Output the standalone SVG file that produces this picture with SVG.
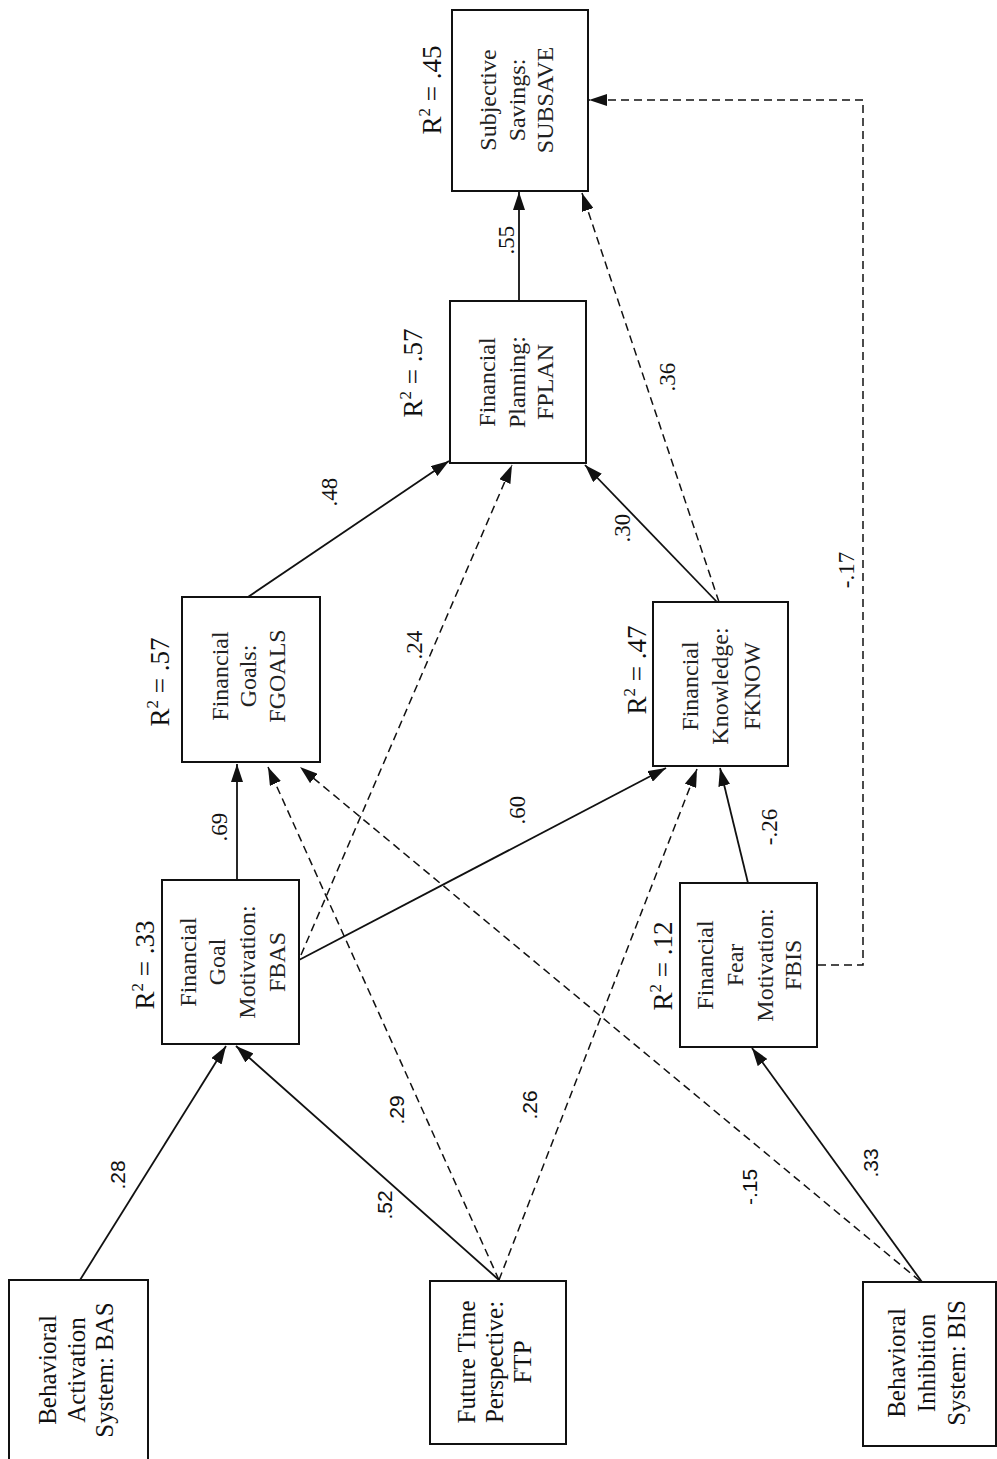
<svg xmlns="http://www.w3.org/2000/svg" width="997" height="1459" viewBox="0 0 997 1459">
<style>
.box{fill:#fff;stroke:#111;stroke-width:2}
.lbl{font-family:"Liberation Serif","Times New Roman",serif;font-size:24px;fill:#222;text-anchor:middle}
.lblb{font-family:"Liberation Serif","Times New Roman",serif;font-size:25px;fill:#111;text-anchor:middle}
.coef{font-family:"Liberation Serif","Times New Roman",serif;font-size:23px;fill:#111;text-anchor:middle}
.coefs{font-family:"Liberation Sans",Arial,sans-serif;font-size:21px;fill:#111;text-anchor:middle}
.r2{font-family:"Liberation Serif","Times New Roman",serif;font-size:27px;fill:#111;text-anchor:middle}
.sol{fill:none;stroke:#111;stroke-width:1.8;marker-end:url(#ah)}
.dash{fill:none;stroke:#111;stroke-width:1.5;stroke-dasharray:8,5;marker-end:url(#ah)}
</style>
<defs>
<marker id="ah" viewBox="0 0 18 12" refX="18" refY="6" markerWidth="18" markerHeight="12" orient="auto" markerUnits="userSpaceOnUse">
<path d="M0,0 L18,6 L0,12 z" fill="#111" stroke="none"/>
</marker>
</defs>
<rect width="997" height="1459" fill="#fff"/>

<g id="connectors">
<path class="sol" d="M80,1280 L226,1046"/>
<path class="sol" d="M499,1280 L236,1046"/>
<path class="dash" d="M499,1280 L268,767"/>
<path class="dash" d="M499,1280 L697,769"/>
<path class="sol" d="M922,1282 L752,1048"/>
<path class="dash" d="M920,1281 L300,767"/>
<path class="sol" d="M748,883 L720,768"/>
<path class="dash" d="M818,965 L863,965 L863,100 L589,100"/>
<path class="sol" d="M237,880 L237,764"/>
<path class="sol" d="M299,960 L666,768"/>
<path class="dash" d="M301,955 L512,465"/>
<path class="sol" d="M248,597 L449,461"/>
<path class="sol" d="M717,602 L585,465"/>
<path class="dash" d="M719,602 L582,193"/>
<path class="sol" d="M519,301 L519,192"/>
</g>

<g id="coefficients">
<text class="coefs" transform="translate(125,1175) rotate(-90)">.28</text>
<text class="coefs" transform="translate(392,1205) rotate(-90)">.52</text>
<text class="coefs" transform="translate(404,1110) rotate(-90)">.29</text>
<text class="coefs" transform="translate(537,1105) rotate(-90)">.26</text>
<text class="coefs" transform="translate(757,1187) rotate(-90)">-.15</text>
<text class="coefs" transform="translate(878,1163) rotate(-90)">.33</text>
<text class="coef" transform="translate(227,827) rotate(-90)">.69</text>
<text class="coef" transform="translate(422,645) rotate(-90)">.24</text>
<text class="coef" transform="translate(525,810) rotate(-90)">.60</text>
<text class="coef" transform="translate(337,492) rotate(-90)">.48</text>
<text class="coef" transform="translate(630,528) rotate(-90)">.30</text>
<text class="coef" transform="translate(675,377) rotate(-90)">.36</text>
<text class="coef" transform="translate(514,240) rotate(-90)">.55</text>
<text class="coef" transform="translate(777,827) rotate(-90)">-.26</text>
<text class="coef" transform="translate(854,570) rotate(-90)">-.17</text>
</g>

<g id="node-bas">
<rect class="box" x="9" y="1280" width="139" height="185"/>
<text class="lblb" transform="translate(56,1370) rotate(-90)">Behavioral</text>
<text class="lblb" transform="translate(85,1370) rotate(-90)">Activation</text>
<text class="lblb" transform="translate(113,1370) rotate(-90)">System: BAS</text>
</g>

<g id="node-ftp">
<rect class="box" x="430" y="1281" width="136" height="163"/>
<text class="lblb" transform="translate(475,1362) rotate(-90)">Future Time</text>
<text class="lblb" transform="translate(503,1362) rotate(-90)">Perspective:</text>
<text class="lblb" transform="translate(531,1362) rotate(-90)">FTP</text>
</g>

<g id="node-bis">
<rect class="box" x="863" y="1282" width="133" height="164"/>
<text class="lblb" transform="translate(905,1363) rotate(-90)">Behavioral</text>
<text class="lblb" transform="translate(935,1363) rotate(-90)">Inhibition</text>
<text class="lblb" transform="translate(965,1363) rotate(-90)">System: BIS</text>
</g>

<g id="node-fbas">
<rect class="box" x="162" y="880" width="137" height="164"/>
<text class="r2" transform="translate(154,965) rotate(-90)">R<tspan font-size="17" dy="-11">2</tspan><tspan dy="11"> = .33</tspan></text>
<text class="lbl" transform="translate(196,962) rotate(-90)">Financial</text>
<text class="lbl" transform="translate(225,962) rotate(-90)">Goal</text>
<text class="lbl" transform="translate(255,962) rotate(-90)">Motivation:</text>
<text class="lbl" transform="translate(285,962) rotate(-90)">FBAS</text>
</g>

<g id="node-fbis">
<rect class="box" x="680" y="883" width="137" height="164"/>
<text class="r2" transform="translate(672,966) rotate(-90)">R<tspan font-size="17" dy="-11">2</tspan><tspan dy="11"> = .12</tspan></text>
<text class="lbl" transform="translate(713,965) rotate(-90)">Financial</text>
<text class="lbl" transform="translate(743,965) rotate(-90)">Fear</text>
<text class="lbl" transform="translate(773,965) rotate(-90)">Motivation:</text>
<text class="lbl" transform="translate(801,965) rotate(-90)">FBIS</text>
</g>

<g id="node-fgoals">
<rect class="box" x="182" y="597" width="138" height="165"/>
<text class="r2" transform="translate(169,682) rotate(-90)">R<tspan font-size="17" dy="-11">2</tspan><tspan dy="11"> = .57</tspan></text>
<text class="lbl" transform="translate(228,676) rotate(-90)">Financial</text>
<text class="lbl" transform="translate(256,676) rotate(-90)">Goals:</text>
<text class="lbl" transform="translate(285,676) rotate(-90)">FGOALS</text>
</g>

<g id="node-fknow">
<rect class="box" x="653" y="602" width="135" height="164"/>
<text class="r2" transform="translate(646,670) rotate(-90)">R<tspan font-size="17" dy="-11">2</tspan><tspan dy="11"> = .47</tspan></text>
<text class="lbl" transform="translate(698,686) rotate(-90)">Financial</text>
<text class="lbl" transform="translate(728,686) rotate(-90)">Knowledge:</text>
<text class="lbl" transform="translate(760,686) rotate(-90)">FKNOW</text>
</g>

<g id="node-fplan">
<rect class="box" x="450" y="301" width="136" height="162"/>
<text class="r2" transform="translate(422,373) rotate(-90)">R<tspan font-size="17" dy="-11">2</tspan><tspan dy="11"> = .57</tspan></text>
<text class="lbl" transform="translate(495,382) rotate(-90)">Financial</text>
<text class="lbl" transform="translate(525,382) rotate(-90)">Planning:</text>
<text class="lbl" transform="translate(553,382) rotate(-90)">FPLAN</text>
</g>

<g id="node-subsave">
<rect class="box" x="452" y="10" width="136" height="181"/>
<text class="r2" transform="translate(441,90) rotate(-90)">R<tspan font-size="17" dy="-11">2</tspan><tspan dy="11"> = .45</tspan></text>
<text class="lbl" transform="translate(496,100) rotate(-90)">Subjective</text>
<text class="lbl" transform="translate(525,100) rotate(-90)">Savings:</text>
<text class="lbl" transform="translate(553,100) rotate(-90)">SUBSAVE</text>
</g>
</svg>
